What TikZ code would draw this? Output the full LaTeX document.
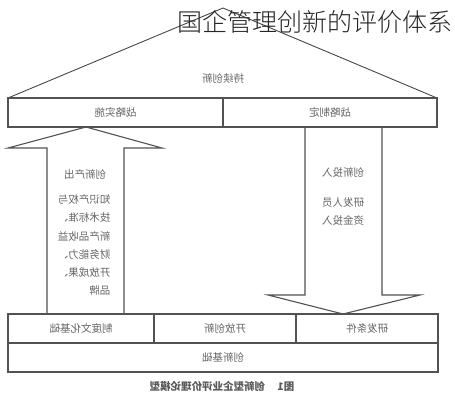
\documentclass[tikz,border=0pt]{standalone}
\usepackage{graphicx}
\usepackage{fontspec}
\newfontfamily\cjk{Noto Sans CJK SC}
\IfFontExistsTF{Noto Sans CJK SC Light}
  {\newfontfamily\cjkthin{Noto Sans CJK SC Light}}
  {\newfontfamily\cjkthin{Noto Sans CJK SC}}
\newcommand\mir[1]{\reflectbox{#1}}
\begin{document}
\begin{tikzpicture}[x=1pt,y=-1pt,
  edge/.style={draw=black!68, line width=1.1pt},
  tri/.style={draw=black!72, line width=0.9pt},
  lbl/.style={font=\cjk\fontsize{10.5}{12}\selectfont, text=black!60, inner sep=0pt},
  cell/.style={draw=black!68, line width=1.1pt, lbl, minimum height=29pt},
  multi/.style={font=\cjk\fontsize{10.5}{18.2}\selectfont, text=black!60, inner sep=0pt},
]
\useasboundingbox (0,0) rectangle (455,400);
\fill[white] (0,0) rectangle (455,400);

% roof
\coordinate (apex) at (223,8);
\coordinate (roofL) at (8,98);
\coordinate (roofR) at (437,98);
\draw[tri] (roofL) -- (apex) -- (roofR);
\node[lbl] (sustain) at (223,78) {\mir{持续创新}};

% strategy row
\node[cell, minimum width=215pt] (impl) at (115.5,112.5) {\mir{战略实施}};
\node[cell, minimum width=214pt] (form) at (330,112.5) {\mir{战略制定}};

% up arrow (output)
\draw[edge, line join=miter] (47,314) -- (47,148) -- (8,148) -- (86,127) -- (162,148) -- (124,148) -- (124,314);
\node[lbl] (outT) at (85,175) {\mir{创新产出}};
\node[multi] (outB) at (84,245.5) {\mir{\begin{tabular}{@{}l@{}}知识产权与\\技术标准、\\新产品收益\\财务能力、\\开放成果、\\品牌\end{tabular}}};

% down arrow (input)
\draw[edge, line join=miter] (305,127) -- (305,295) -- (268,295) -- (343,314) -- (420,295) -- (382,295) -- (382,127);
\node[lbl] (inT) at (343,172) {\mir{创新投入}};
\node[multi] (inB) at (343,212) {\mir{\begin{tabular}{@{}l@{}}研发人员\\资金投入\end{tabular}}};

% base rows
\node[cell, minimum width=146pt] (inst) at (81,328.5) {\mir{制度文化基础}};
\node[cell, minimum width=142pt] (open) at (225,328.5) {\mir{开放创新}};
\node[cell, minimum width=142pt] (rnd) at (367,328.5) {\mir{研发条件}};
\node[cell, minimum width=430pt] (base) at (223,357.5) {\mir{创新基础}};

% caption
\node[font=\cjk\bfseries\fontsize{10.5}{12}\selectfont, text=black!65, inner sep=0pt] (cap) at (222,387) {\mir{图1\hspace{1.2em}创新型企业评价理论模型}};

% title
\node[font=\cjkthin\fontsize{25}{28}\selectfont, text=black!85, inner sep=0pt] (title) at (315,22) {国企管理创新的评价体系};
\end{tikzpicture}
\end{document}
